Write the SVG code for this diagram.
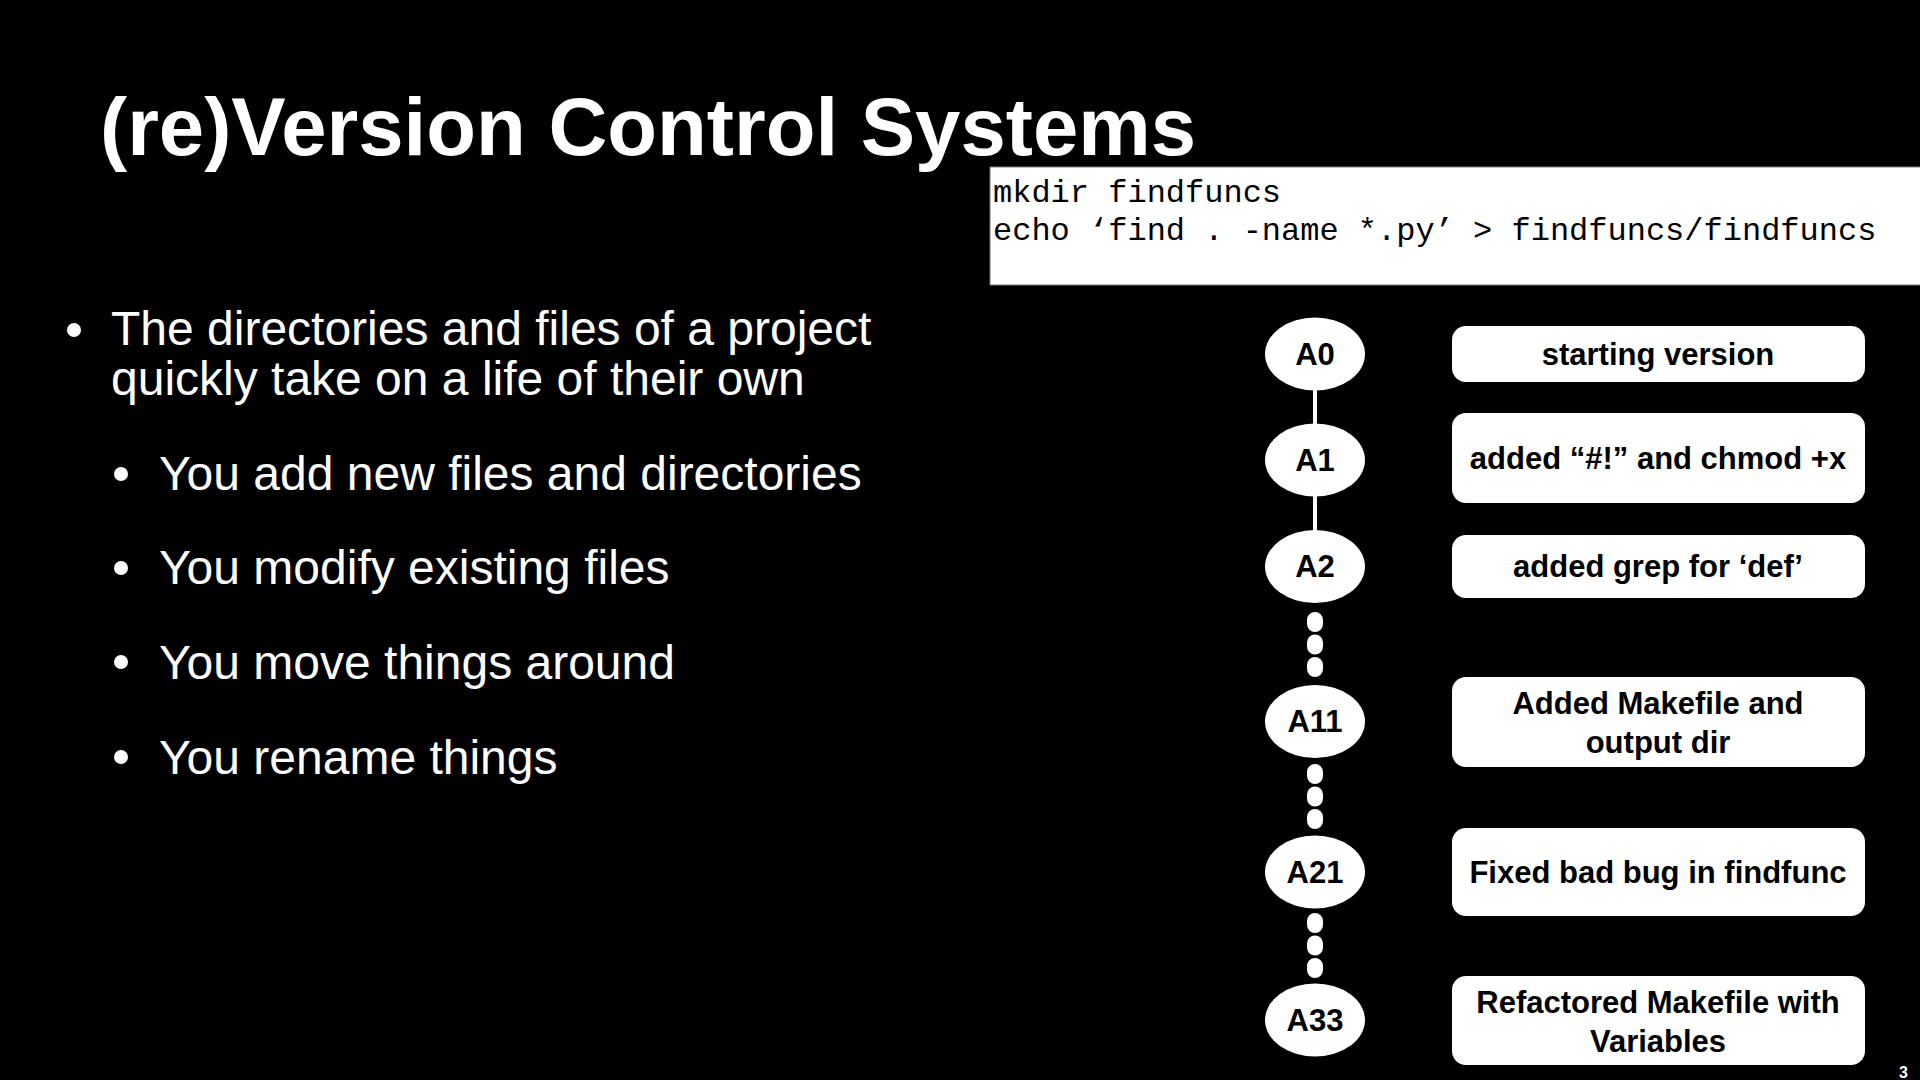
<svg xmlns="http://www.w3.org/2000/svg" width="1920" height="1080" viewBox="0 0 1920 1080">
  <style>
    .title { font-family: "Liberation Sans", Arial, sans-serif; font-weight: bold; font-size: 81.5px; fill: #fff; }
    .body { font-family: "Liberation Sans", Arial, sans-serif; font-size: 48px; fill: #fff; }
    .code { font-family: "Liberation Mono", "Courier New", monospace; font-size: 32px; fill: #000; }
    .node ellipse { fill: #fff; }
    .node text, .label text { font-family: "Liberation Sans", Arial, sans-serif; font-weight: bold; font-size: 31px; fill: #000; text-anchor: middle; }
    .label rect { fill: #fff; }
    .solid { stroke: #fff; stroke-width: 4; fill: none; }
    .dotted { stroke: #fff; stroke-width: 16; stroke-linecap: round; stroke-dasharray: 4 18.5; fill: none; }
    .pagenum { font-family: "Liberation Sans", Arial, sans-serif; font-weight: bold; font-size: 16px; fill: #fff; }
  </style>

  <rect x="0" y="0" width="1920" height="1080" fill="#000"/>

  <!-- slide title -->
  <text class="title" x="100" y="155">(re)Version Control Systems</text>

  <!-- bullet list -->
  <g id="bullets">
    <circle cx="74" cy="330" r="7" fill="#fff"/>
    <text class="body" x="111" y="345">The directories and files of a project</text>
    <text class="body" x="111" y="395">quickly take on a life of their own</text>
    <circle cx="121" cy="474" r="7" fill="#fff"/>
    <text class="body" x="159" y="490">You add new files and directories</text>
    <circle cx="121" cy="568" r="7" fill="#fff"/>
    <text class="body" x="159" y="584">You modify existing files</text>
    <circle cx="121" cy="662" r="7" fill="#fff"/>
    <text class="body" x="159" y="679">You move things around</text>
    <circle cx="121" cy="757" r="7" fill="#fff"/>
    <text class="body" x="159" y="774">You rename things</text>
  </g>

  <!-- shell commands -->
  <g id="code">
    <rect x="990" y="167" width="935" height="118" fill="#fff" stroke="#777" stroke-width="1"/>
    <text class="code" x="993" y="202">mkdir findfuncs</text>
    <text class="code" x="993" y="240">echo ‘find . -name *.py’ &gt; findfuncs/findfuncs</text>
  </g>

  <!-- history connectors -->
  <g id="connectors">
    <line class="solid" x1="1315" y1="389" x2="1315" y2="425"/>
    <line class="solid" x1="1315" y1="495" x2="1315" y2="531"/>
    <line class="dotted" x1="1315" y1="620" x2="1315" y2="669"/>
    <line class="dotted" x1="1315" y1="772" x2="1315" y2="821"/>
    <line class="dotted" x1="1315" y1="921" x2="1315" y2="970"/>
  </g>

  <!-- commits -->
  <g id="node-A0" class="node"><ellipse cx="1315" cy="354" rx="50" ry="36.5"/><text x="1315" y="365">A0</text></g>
  <g id="node-A1" class="node"><ellipse cx="1315" cy="460" rx="50" ry="36.5"/><text x="1315" y="471">A1</text></g>
  <g id="node-A2" class="node"><ellipse cx="1315" cy="566.5" rx="50" ry="36.5"/><text x="1315" y="577">A2</text></g>
  <g id="node-A11" class="node"><ellipse cx="1315" cy="721.5" rx="50" ry="36.5"/><text x="1315" y="732">A11</text></g>
  <g id="node-A21" class="node"><ellipse cx="1315" cy="872" rx="50" ry="36.5"/><text x="1315" y="883">A21</text></g>
  <g id="node-A33" class="node"><ellipse cx="1315" cy="1020" rx="50" ry="36.5"/><text x="1315" y="1031">A33</text></g>

  <!-- commit messages -->
  <g id="label-A0" class="label"><rect x="1452" y="326" width="413" height="56" rx="14"/><text x="1658" y="365">starting version</text></g>
  <g id="label-A1" class="label"><rect x="1452" y="413" width="413" height="90" rx="14"/><text x="1658" y="469">added “#!” and chmod +x</text></g>
  <g id="label-A2" class="label"><rect x="1452" y="535" width="413" height="63" rx="14"/><text x="1658" y="577">added grep for ‘def’</text></g>
  <g id="label-A11" class="label"><rect x="1452" y="677" width="413" height="90" rx="14"/><text x="1658" y="714">Added Makefile and</text><text x="1658" y="753">output dir</text></g>
  <g id="label-A21" class="label"><rect x="1452" y="828" width="413" height="88" rx="14"/><text x="1658" y="883">Fixed bad bug in findfunc</text></g>
  <g id="label-A33" class="label"><rect x="1452" y="976" width="413" height="89" rx="14"/><text x="1658" y="1013">Refactored Makefile with</text><text x="1658" y="1052">Variables</text></g>

  <text class="pagenum" x="1899" y="1078">3</text>
</svg>
